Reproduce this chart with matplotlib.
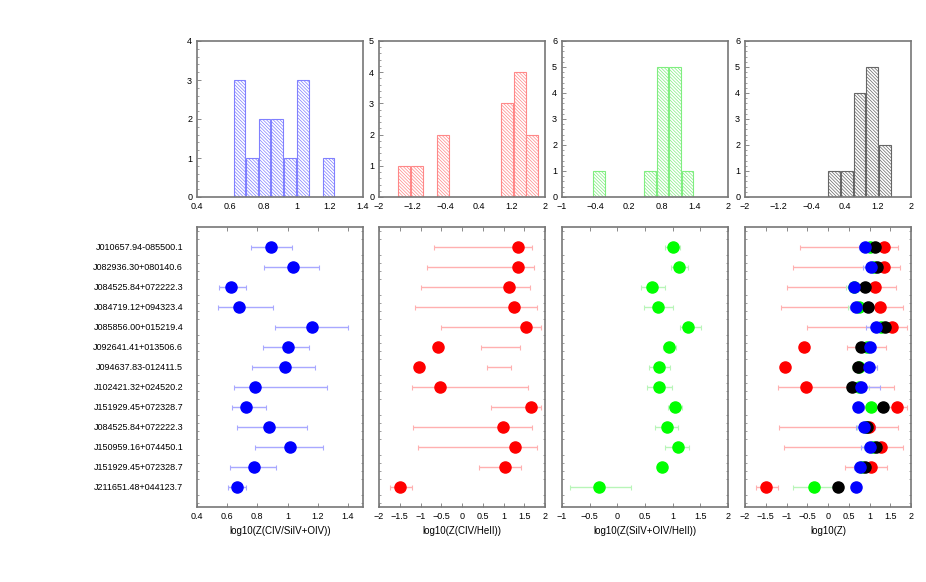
import numpy as np
import matplotlib
matplotlib.use("Agg")
import matplotlib.pyplot as plt

plt.rcParams['font.family'] = ['Liberation Sans', 'DejaVu Sans']
plt.rcParams['hatch.linewidth'] = 0.5

names = ["J010657.94-085500.1", "J082936.30+080140.6", "J084525.84+072222.3",
         "J084719.12+094323.4", "J085856.00+015219.4", "J092641.41+013506.6",
         "J094637.83-012411.5", "J102421.32+024520.2", "J151929.45+072328.7",
         "J084525.84+072222.3", "J150959.16+074450.1", "J151929.45+072328.7",
         "J211651.48+044123.7"]

# log10(Z(CIV/SiIV+OIV))
z_civ_si = [0.888, 1.036, 0.628, 0.677, 1.165, 1.002, 0.985, 0.786, 0.726, 0.877, 1.019, 0.777, 0.666]
z_civ_si_lo = [0.759, 0.846, 0.546, 0.540, 0.919, 0.839, 0.766, 0.646, 0.635, 0.664, 0.786, 0.617, 0.606]
z_civ_si_hi = [1.027, 1.209, 0.726, 0.901, 1.400, 1.141, 1.185, 1.263, 0.859, 1.129, 1.238, 0.921, 0.728]

# log10(Z(CIV/HeII))
z_civ_he = [1.352, 1.344, 1.142, 1.250, 1.547, -0.583, -1.036, -0.534, 1.660, 0.996, 1.287, 1.028, -1.498]
z_civ_he_lo = [-0.680, -0.842, -0.996, -1.142, -0.510, 0.462, 0.607, -1.215, 0.688, -1.174, -1.053, 0.413, -1.741]
z_civ_he_hi = [1.684, 1.725, 1.636, 1.806, 1.903, 1.393, 1.190, 1.579, 1.903, 1.684, 1.806, 1.433, -1.215]

# log10(Z(SiIV+OIV/HeII))
z_si_he = [1.008, 1.111, 0.633, 0.736, 1.286, 0.942, 0.754, 0.754, 1.045, 0.906, 1.093, 0.815, -0.340]
z_si_he_lo = [0.869, 0.966, 0.434, 0.488, 1.129, 0.821, 0.579, 0.536, 0.912, 0.688, 0.869, 0.800, -0.854]
z_si_he_hi = [1.141, 1.274, 0.863, 1.002, 1.510, 1.069, 0.960, 0.984, 1.166, 1.093, 1.293, 0.830, 0.252]

# log10(Z) combined
z_all = [1.142, 1.190, 0.883, 0.964, 1.377, 0.794, 0.721, 0.585, 1.328, 0.939, 1.158, 0.899, 0.243]

# histograms (bin centres, counts)
h1_x = [0.655, 0.731, 0.807, 0.882, 0.961, 1.037, 1.191]
h1_n = [3, 1, 2, 2, 1, 3, 1]
h2_x = [-1.39, -1.08, -0.46, 1.08, 1.39, 1.69]
h2_n = [1, 1, 2, 3, 4, 2]
h3_x = [-0.335, 0.585, 0.815, 1.04, 1.27]
h3_n = [1, 1, 5, 5, 1]
h4_x = [0.15, 0.46, 0.76, 1.07, 1.38]
h4_n = [1, 1, 4, 5, 2]

W, H = 926, 582
fig = plt.figure(figsize=(W / 100, H / 100), dpi=100)

spine_col = '#777777'
lefts = [197, 379, 562, 745]
pw = 166


def style(ax):
    for s in ax.spines.values():
        s.set_color(spine_col)
        s.set_linewidth(1.2)
    ax.tick_params(direction='in', labelsize=6.5, colors=spine_col,
                   labelcolor='black', width=0.6, length=3)
    ax.tick_params(which='minor', direction='in', colors=spine_col,
                   width=0.5, length=1.5)


# top histograms
hists = [(h1_x, h1_n, 0.0758, (0.4, 1.4), np.arange(0.4, 1.41, 0.2), 4, '#8080ff'),
         (h2_x, h2_n, 0.31, (-2, 2), np.arange(-2, 2.01, 0.8), 5, '#ff8888'),
         (h3_x, h3_n, 0.23, (-1, 2), np.arange(-1, 2.01, 0.6), 6, '#80ee80'),
         (h4_x, h4_n, 0.31, (-2, 2), np.arange(-2, 2.01, 0.8), 6, '#666666')]

for i, (hx, hn, bw, xr, xt, ymax, ec) in enumerate(hists):
    ax = fig.add_axes([lefts[i] / W, 1 - 197 / H, pw / W, 156 / H])
    ax.bar(hx, hn, width=bw * 0.92, facecolor='white', edgecolor=ec,
           hatch='\\' * 10, linewidth=0.8)
    ax.set_xlim(*xr)
    ax.set_ylim(0, ymax)
    ax.set_xticks(xt)
    ax.set_xticklabels([('%g' % round(v, 2)).replace('-', '\u2212') for v in xt])
    ax.set_yticks(range(ymax + 1))
    ax.set_yticks(np.arange(0, ymax + 0.01, 0.2), minor=True)
    ax.xaxis.set_ticks_position('bottom')
    style(ax)
    ax.tick_params(axis='x', length=0)

# bottom panels
rows = np.arange(1, len(names) + 1)
ecb = '#a8a8ff'
ecr = '#ffb0b0'
ecg = '#b8f5b8'
ms = 8


def errs(ax, lo, hi, ecol, zo):
    lo = np.array(lo)
    hi = np.array(hi)
    mid = (lo + hi) / 2
    ax.errorbar(mid, rows, xerr=(hi - lo) / 2, fmt='none',
                ecolor=ecol, elinewidth=1.0, capsize=1.8, capthick=0.8, zorder=zo)


def pts(ax, z, col, zo):
    ax.plot(z, rows, 'o', color=col, ms=ms, mec=col, zorder=zo)


panels = [((0.4, 1.5), np.arange(0.4, 1.41, 0.2), 'log10(Z(CIV/SiIV+OIV))'),
          ((-2, 2), np.arange(-2, 2.01, 0.5), 'log10(Z(CIV/HeII))'),
          ((-1, 2), np.arange(-1, 2.01, 0.5), 'log10(Z(SiIV+OIV/HeII))'),
          ((-2, 2), np.arange(-2, 2.01, 0.5), 'log10(Z)')]

for i, (xr, xt, lab) in enumerate(panels):
    ax = fig.add_axes([lefts[i] / W, 1 - 507 / H, pw / W, 280 / H])
    if i == 0:
        errs(ax, z_civ_si_lo, z_civ_si_hi, ecb, 2)
        pts(ax, z_civ_si, 'blue', 3)
    elif i == 1:
        errs(ax, z_civ_he_lo, z_civ_he_hi, ecr, 2)
        pts(ax, z_civ_he, 'red', 3)
    elif i == 2:
        errs(ax, z_si_he_lo, z_si_he_hi, ecg, 2)
        pts(ax, z_si_he, '#00ff00', 3)
    else:
        errs(ax, z_civ_he_lo, z_civ_he_hi, ecr, 2)
        errs(ax, z_si_he_lo, z_si_he_hi, ecg, 2)
        errs(ax, z_civ_si_lo, z_civ_si_hi, ecb, 2)
        pts(ax, z_civ_he, 'red', 3)
        pts(ax, z_si_he, '#00ff00', 4)
        pts(ax, z_all, 'black', 5)
        pts(ax, z_civ_si, 'blue', 6)
    ax.set_xlim(*xr)
    ax.set_ylim(14, 0)
    ax.set_xticks(xt)
    ax.set_xticklabels([('%g' % round(v, 2)).replace('-', '\u2212') for v in xt])
    ax.set_yticks(rows)
    ax.set_yticks(np.arange(0.2, 14, 0.4), minor=True)
    if i == 0:
        ax.set_yticklabels(names)
    else:
        ax.set_yticklabels([])
    ax.set_xlabel(lab, fontsize=7, labelpad=4)
    ax.xaxis.set_ticks_position('both')
    ax.yaxis.set_ticks_position('both')
    style(ax)
    ax.tick_params(axis='y', which='major', length=0, pad=10, labelsize=6.5)

fig.savefig('out.png', dpi=100)
